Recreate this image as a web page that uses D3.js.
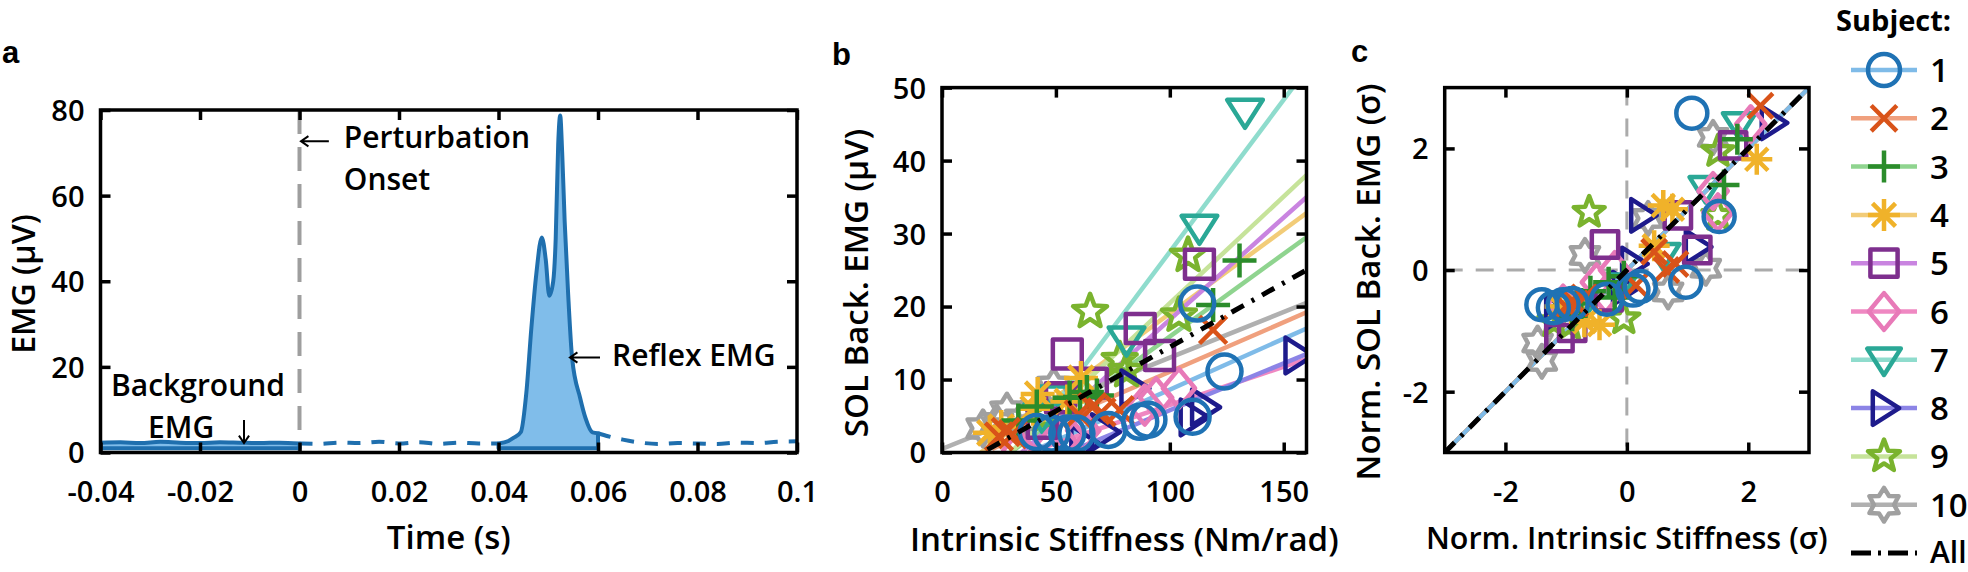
<!DOCTYPE html>
<html lang="en">
<head>
<meta charset="UTF-8">
<title>EMG and stiffness</title>
<script src="https://d3js.org/d3.v7.min.js"></script>
<style>
  body { margin: 0; background: #fff; }
  svg { display: block; font-family: 'Open Sans', sans-serif; }
  .tick line { stroke: #000; stroke-width: 3.5px; }
  .tick text { fill: #000; }
</style>
</head>
<body>
<div id="chart"></div>
<script>
// ---------- panel a: EMG trace ----------
const emgTime = [-0.04, -0.036, -0.032, -0.028, -0.024, -0.02, -0.016, -0.012, -0.008, -0.004, 0,
  0.004, 0.008, 0.012, 0.016, 0.02, 0.024, 0.028, 0.032, 0.036, 0.04, 0.042, 0.043, 0.0445,
  0.0456, 0.0466, 0.0476, 0.0487, 0.0495, 0.0502, 0.051, 0.0515, 0.052, 0.0524, 0.0528, 0.0533,
  0.054, 0.0548, 0.0564, 0.0575, 0.0589, 0.06, 0.062, 0.065, 0.068, 0.072, 0.076, 0.08, 0.084,
  0.088, 0.092, 0.096, 0.1];
const emgValue = [2.3, 2.4, 2.2, 2.5, 2.3, 2.2, 2.4, 2.3, 2.2, 2.3, 2.1,
  2.0, 2.3, 2.2, 2.5, 2.1, 2.4, 2.0, 2.3, 2.1, 2.1, 2.7, 3.4, 4.8,
  14, 29, 41.7, 50.2, 45, 36.6, 40, 50, 72, 78.7, 70, 54,
  37, 22, 12.8, 8, 4.7, 4.5, 3.8, 3.0, 2.4, 2.0, 2.2, 2.1, 2.0,
  2.3, 2.2, 2.5, 2.6];
const backgroundWindow = [-0.04, 0];
const reflexWindow = [0.04, 0.06];
const areaFloor = 1;
const aXTicks = [-0.04, -0.02, 0, 0.02, 0.04, 0.06, 0.08, 0.1];
const aXLabels = ["-0.04", "-0.02", "0", "0.02", "0.04", "0.06", "0.08", "0.1"];
const aYTicks = [0, 20, 40, 60, 80];

// ---------- panels b and c: subjects ----------
const subjects = ["1", "2", "3", "4", "5", "6", "7", "8", "9", "10"];
const markerTypes = ["o", "x", "+", "*", "s", "d", "v", ">", "p", "h"];
const markerColors = ["#1f72b4", "#d95319", "#2b8c2b", "#f0b22a", "#7e2f8e", "#e87ab8", "#2aa896", "#1e1b8c", "#7ab32e", "#a0a0a0"];
const lineColors = ["#7fbbe8", "#f0a07e", "#8fd48f", "#f2cc78", "#c984e0", "#ef88c2", "#8fdccd", "#8c84e6", "#c6e39a", "#b0b0b0"];

// [stiffness Nm/rad, background EMG uV]
const rawPoints = [
  [[41.6, 2.8], [48, 2.6], [55, 2.6], [59, 2.6], [73, 3.1], [87, 4.2], [90.6, 4.5], [110, 4.9], [124, 11.1], [112, 20.4]],
  [[25, 2.2], [28, 2.8], [31, 2.5], [60, 5.2], [66, 6.2], [70, 5.5], [78, 5.8], [119, 16.8]],
  [[33.5, 4.4], [41.6, 6.3], [56, 7.5], [60.6, 7.6], [63.6, 8.3], [68, 7.8], [119, 20.2], [130.6, 26.3]],
  [[21, 2.7], [26, 3.5], [42, 8], [40, 6], [61, 10.2], [55, 7]],
  [[44, 4], [52, 7.5], [55, 13.5], [66, 9.5], [87, 17], [95.5, 13.3], [113, 25.8]],
  [[34, 0.3], [47, 0.5], [55, 2.5], [62, 3], [89, 6.5], [94, 7.5], [104, 8.8]],
  [[44, 5], [50, 7.4], [81, 15.5], [113, 30.8], [133, 46.7]],
  [[62, 1.2], [71, 2.8], [84, 8.8], [110, 4.8], [115, 6.2], [156, 13.3]],
  [[45, 5], [65, 19.3], [78, 12.7], [81, 11.2], [104, 18.8], [108, 27]],
  [[18, 3.3], [24, 4], [28.5, 5.6], [35, 4.5], [49, 9]]
];
// fit lines: [x start, y start, y at x end]
const rawFits = [
  [42, 0.5, 17], [22, 0.5, 19.2], [30, 0, 29.5], [17, 0, 32.8], [35, 0, 35],
  [38, 0, 12.8], [40, 2.5, 52.5], [55, 0, 13.5], [30, 0, 38], [0, 0.5, 20.5]
];
const rawFitAll = [20, 0.4, 25];
const fitEndX = 160;
const bXTicks = [0, 50, 100, 150];
const bYTicks = [0, 10, 20, 30, 40, 50];

// normalised [stiffness sigma, EMG sigma]
const normPoints = [
  [[1.07, 2.58], [1.52, 0.88], [0.97, -0.2], [0.22, -0.27], [0.1, -0.33], [-0.33, -0.48], [-0.9, -0.55], [-1.05, -0.57], [-1.21, -0.62], [-1.4, -0.57]],
  [[2.2, 2.7], [0.45, 0.3], [0.8, 0.1], [0.65, 0], [0.15, -0.25], [-0.85, -0.55], [-1.0, -0.6], [-0.7, -0.45]],
  [[1.82, 2.15], [1.6, 1.4], [-0.05, -0.1], [-0.3, -0.2], [-0.6, -0.35], [-0.9, -0.75], [-0.2, -0.45], [-0.75, -0.55]],
  [[2.14, 1.82], [0.6, 1.06], [0.75, 1.0], [0.45, 0.4], [-0.45, -0.9], [-0.7, -0.85], [-1.1, -0.6]],
  [[1.75, 2.05], [-0.36, 0.42], [0.84, 0.9], [1.16, 0.33], [-1.11, -1.12], [-0.9, -0.95], [-0.3, -0.45]],
  [[2.04, 2.4], [1.42, 1.3], [1.5, 0.95], [-0.2, 0], [-0.35, -0.4], [-1.05, -0.55], [-0.5, -0.2]],
  [[1.85, 2.4], [1.3, 1.35], [0.6, 0.25], [-0.1, -0.25], [-0.7, -0.55]],
  [[2.4, 2.42], [0.25, 0.9], [1.15, 0.38], [0.1, 0.1], [-0.05, -0.3], [-1.15, -0.7]],
  [[-0.62, 0.95], [1.5, 0.9], [1.5, 1.95], [-0.95, -0.9], [-0.05, -0.8], [-1.2, -0.85]],
  [[1.42, 2.18], [0.35, 0.85], [-0.69, 0.24], [1.3, 0.03], [0.68, -0.36], [-1.47, -1.2], [-1.4, -1.5]]
];
const normFit = [[-3, -3], [3, 3]];
const cTicks = [-2, 0, 2];

// ---------- setup ----------
const W = 1968, H = 572;
const svg = d3.select("#chart").append("svg").attr("width", W).attr("height", H);
const FONT = "'Open Sans', sans-serif";
const WEIGHT = 600;

function markerPath(type, s) {
  const p = d3.path();
  if (type === "o") {
    p.arc(0, 0, s, 0, 2 * Math.PI);
  } else if (type === "x") {
    const a = s * 0.8;
    p.moveTo(-a, -a); p.lineTo(a, a); p.moveTo(-a, a); p.lineTo(a, -a);
  } else if (type === "+") {
    p.moveTo(-s, 0); p.lineTo(s, 0); p.moveTo(0, -s); p.lineTo(0, s);
  } else if (type === "*") {
    const a = s * 0.72;
    p.moveTo(-s, 0); p.lineTo(s, 0); p.moveTo(0, -s); p.lineTo(0, s);
    p.moveTo(-a, -a); p.lineTo(a, a); p.moveTo(-a, a); p.lineTo(a, -a);
  } else if (type === "s") {
    const a = s * 0.85;
    p.rect(-a, -a, 2 * a, 2 * a);
  } else if (type === "d") {
    p.moveTo(0, -s * 1.15); p.lineTo(s * 0.95, 0); p.lineTo(0, s * 1.15); p.lineTo(-s * 0.95, 0); p.closePath();
  } else if (type === "v") {
    p.moveTo(-s * 1.05, -s * 0.7); p.lineTo(s * 1.05, -s * 0.7); p.lineTo(0, s * 0.95); p.closePath();
  } else if (type === ">") {
    p.moveTo(-s * 0.7, -s * 1.05); p.lineTo(s * 0.95, 0); p.lineTo(-s * 0.7, s * 1.05); p.closePath();
  } else if (type === "p" || type === "h") {
    const n = type === "p" ? 5 : 6;
    const R = s * 1.05, r = type === "p" ? R * 0.42 : R * 0.6;
    for (let i = 0; i < 2 * n; i++) {
      const ang = -Math.PI / 2 + i * Math.PI / n;
      const rr = i % 2 === 0 ? R : r;
      if (i === 0) p.moveTo(rr * Math.cos(ang), rr * Math.sin(ang));
      else p.lineTo(rr * Math.cos(ang), rr * Math.sin(ang));
    }
    p.closePath();
  }
  return p.toString();
}

function drawAxes(x, y, xTicks, xLabels, yTicks, yLabels) {
  const [xl, xr] = x.range(), [yb, yt] = y.range();
  const fmt = labels => (d, i) => labels ? labels[i] : String(d);
  const style = g => g.attr("font-family", FONT).attr("font-size", 29).attr("font-weight", WEIGHT)
    .call(g => g.select(".domain").remove());
  svg.append("g").attr("transform", `translate(0,${yb})`)
    .call(d3.axisBottom(x).tickValues(xTicks).tickFormat(fmt(xLabels)).tickSizeInner(-10).tickSizeOuter(0).tickPadding(29))
    .call(style);
  svg.append("g").attr("transform", `translate(0,${yt})`)
    .call(d3.axisTop(x).tickValues(xTicks).tickFormat("").tickSizeInner(-10).tickSizeOuter(0))
    .call(style);
  svg.append("g").attr("transform", `translate(${xl},0)`)
    .call(d3.axisLeft(y).tickValues(yTicks).tickFormat(fmt(yLabels)).tickSizeInner(-10).tickSizeOuter(0).tickPadding(16))
    .call(style)
    .selectAll("text").attr("dy", "0.36em");
  svg.append("g").attr("transform", `translate(${xr},0)`)
    .call(d3.axisRight(y).tickValues(yTicks).tickFormat("").tickSizeInner(-10).tickSizeOuter(0))
    .call(style);
  svg.append("rect").attr("x", xl).attr("y", yt).attr("width", xr - xl).attr("height", yb - yt)
    .attr("fill", "none").attr("stroke", "#000").attr("stroke-width", 3.5);
}

function clip(id, x, y) {
  svg.append("clipPath").attr("id", id).append("rect")
    .attr("x", x.range()[0]).attr("y", y.range()[1])
    .attr("width", x.range()[1] - x.range()[0]).attr("height", y.range()[0] - y.range()[1]);
}

function addText(txt, x, y, size, opts = {}) {
  const t = svg.append("text").attr("x", x).attr("y", y).text(txt)
    .attr("font-family", opts.family || FONT).attr("font-size", size)
    .attr("font-weight", opts.weight || WEIGHT)
    .attr("text-anchor", opts.anchor || "start");
  if (opts.rotate) t.attr("transform", `rotate(-90,${x},${y})`);
  return t;
}

function arrow(x1, y1, x2, y2) {
  // line from (x1,y1) to head at (x2,y2)
  const ang = Math.atan2(y2 - y1, x2 - x1), h = 9;
  const p = d3.path();
  p.moveTo(x1, y1); p.lineTo(x2, y2);
  p.moveTo(x2 - h * Math.cos(ang - 0.6), y2 - h * Math.sin(ang - 0.6));
  p.lineTo(x2, y2);
  p.lineTo(x2 - h * Math.cos(ang + 0.6), y2 - h * Math.sin(ang + 0.6));
  svg.append("path").attr("d", p.toString()).attr("fill", "none").attr("stroke", "#000").attr("stroke-width", 2);
}

// ---------- panel a ----------
{
  const x = d3.scaleLinear().domain([-0.04, 0.1]).range([100.5, 797]);
  const y = d3.scaleLinear().domain([0, 80]).range([452.5, 110]);
  clip("clipA", x, y);
  const pts = emgTime.map((t, i) => [t, emgValue[i]]);
  const inWin = (w) => pts.filter(d => d[0] >= w[0] - 1e-9 && d[0] <= w[1] + 1e-9);
  const line = d3.line().x(d => x(d[0])).y(d => y(d[1])).curve(d3.curveMonotoneX);
  const area = d3.area().x(d => x(d[0])).y0(y(areaFloor)).y1(d => y(d[1])).curve(d3.curveMonotoneX);
  const g = svg.append("g").attr("clip-path", "url(#clipA)");

  // onset marker
  g.append("line").attr("x1", x(0)).attr("x2", x(0)).attr("y1", y(80)).attr("y2", y(0))
    .attr("stroke", "#9e9e9e").attr("stroke-width", 4).attr("stroke-dasharray", "24,13");

  [backgroundWindow, reflexWindow].forEach(w => {
    const seg = inWin(w);
    g.append("path").datum(seg).attr("d", area)
      .attr("fill", "#80bdea").attr("stroke", "#1f6fae").attr("stroke-width", 4).attr("stroke-linejoin", "round");
  });
  [[backgroundWindow[1], reflexWindow[0]], [reflexWindow[1], 0.1]].forEach(w => {
    g.append("path").datum(inWin(w)).attr("d", line)
      .attr("fill", "none").attr("stroke", "#1f6fae").attr("stroke-width", 4).attr("stroke-dasharray", "13,11");
  });

  drawAxes(x, y, aXTicks, aXLabels, aYTicks, null);

  addText("a", 2, 63, 31, { family: "'Liberation Sans', Arial, sans-serif", weight: "bold" });
  addText("Time (s)", (x.range()[0] + x.range()[1]) / 2, 549, 33, { anchor: "middle" });
  addText("EMG (\u03bcV)", 35, 284, 32, { anchor: "middle", rotate: true });

  arrow(x(0.0059), y(72.7), x(0.0003), y(72.7));
  addText("Perturbation", x(0.0089), 148, 30);
  addText("Onset", x(0.0089), 190, 30);
  arrow(244, 420, 244, 443);
  addText("Background", 111, 396, 30);
  addText("EMG", 148, 438, 30);
  arrow(600, 357.5, 570, 357.5);
  addText("Reflex EMG", 612, 366, 30);
}

// ---------- panel b ----------
{
  const x = d3.scaleLinear().domain([0, 160]).range([942, 1306.5]);
  const y = d3.scaleLinear().domain([0, 50]).range([452.5, 87.6]);
  clip("clipB", x, y);
  const g = svg.append("g").attr("clip-path", "url(#clipB)");
  rawFits.forEach((f, i) => {
    g.append("line").attr("x1", x(f[0])).attr("y1", y(f[1])).attr("x2", x(fitEndX)).attr("y2", y(f[2]))
      .attr("stroke", lineColors[i]).attr("stroke-width", 4.5);
  });
  for (let i = rawPoints.length - 1; i >= 0; i--) {
    g.selectAll(null).data(rawPoints[i]).join("path")
      .attr("transform", d => `translate(${x(d[0])},${y(d[1])})`)
      .attr("d", markerPath(markerTypes[i], 17))
      .attr("fill", "none").attr("stroke", markerColors[i]).attr("stroke-width", 4.5).attr("stroke-linejoin", "round");
  }
  g.append("line").attr("x1", x(rawFitAll[0])).attr("y1", y(rawFitAll[1])).attr("x2", x(fitEndX)).attr("y2", y(rawFitAll[2]))
    .attr("stroke", "#000").attr("stroke-width", 5).attr("stroke-dasharray", "14,9,3,9");

  drawAxes(x, y, bXTicks, null, bYTicks, null);
  addText("b", 832, 65, 31, { family: "'Liberation Sans', Arial, sans-serif", weight: "bold" });
  addText("Intrinsic Stiffness (Nm/rad)", (x.range()[0] + x.range()[1]) / 2, 551, 33, { anchor: "middle" });
  addText("SOL Back. EMG (\u03bcV)", 868, 283, 33, { anchor: "middle", rotate: true });
}

// ---------- panel c ----------
{
  const x = d3.scaleLinear().domain([-3, 3]).range([1444.7, 1809]);
  const y = d3.scaleLinear().domain([-3, 3]).range([452.5, 87.6]);
  clip("clipC", x, y);
  const g = svg.append("g").attr("clip-path", "url(#clipC)");
  g.append("line").attr("x1", x(0)).attr("x2", x(0)).attr("y1", y(3)).attr("y2", y(-3))
    .attr("stroke", "#ababab").attr("stroke-width", 3).attr("stroke-dasharray", "18,13");
  g.append("line").attr("x1", x(-3)).attr("x2", x(3)).attr("y1", y(0)).attr("y2", y(0))
    .attr("stroke", "#ababab").attr("stroke-width", 3).attr("stroke-dasharray", "18,13");
  for (let i = lineColors.length - 1; i >= 0; i--) {
    g.append("line").attr("x1", x(normFit[0][0])).attr("y1", y(normFit[0][1]))
      .attr("x2", x(normFit[1][0])).attr("y2", y(normFit[1][1]))
      .attr("stroke", lineColors[i]).attr("stroke-width", 4);
  }
  for (let i = normPoints.length - 1; i >= 0; i--) {
    g.selectAll(null).data(normPoints[i]).join("path")
      .attr("transform", d => `translate(${x(d[0])},${y(d[1])})`)
      .attr("d", markerPath(markerTypes[i], 15.5))
      .attr("fill", "none").attr("stroke", markerColors[i]).attr("stroke-width", 4.5).attr("stroke-linejoin", "round");
  }
  g.append("line").attr("x1", x(normFit[0][0])).attr("y1", y(normFit[0][1]))
    .attr("x2", x(normFit[1][0])).attr("y2", y(normFit[1][1]))
    .attr("stroke", "#000").attr("stroke-width", 5).attr("stroke-dasharray", "14,9,3,9");

  drawAxes(x, y, cTicks, null, cTicks, null);
  addText("c", 1351, 62, 31, { family: "'Liberation Sans', Arial, sans-serif", weight: "bold" });
  addText("Norm. Intrinsic Stiffness (\u03c3)", (x.range()[0] + x.range()[1]) / 2, 549, 30.5, { anchor: "middle" });
  addText("Norm. SOL Back. EMG (\u03c3)", 1380, 282, 33, { anchor: "middle", rotate: true });
}

// ---------- legend ----------
{
  const rowY = d3.scalePoint().domain([...subjects, "All"]).range([70, 553]);
  addText("Subject:", 1836, 31, 29, { weight: "bold" });
  subjects.forEach((s, i) => {
    const yy = rowY(s);
    svg.append("line").attr("x1", 1851).attr("x2", 1917).attr("y1", yy).attr("y2", yy)
      .attr("stroke", lineColors[i]).attr("stroke-width", 4.5);
    svg.append("path").attr("transform", `translate(1884,${yy})`).attr("d", markerPath(markerTypes[i], 16))
      .attr("fill", "none").attr("stroke", markerColors[i]).attr("stroke-width", 4.5).attr("stroke-linejoin", "round");
    addText(s, 1930, yy + 12, 33);
  });
  const ya = rowY("All");
  svg.append("line").attr("x1", 1851).attr("x2", 1917).attr("y1", ya).attr("y2", ya)
    .attr("stroke", "#000").attr("stroke-width", 5).attr("stroke-dasharray", "20,7,3,7");
  addText("All", 1930, ya + 10, 30);
}
</script>
</body>
</html>
